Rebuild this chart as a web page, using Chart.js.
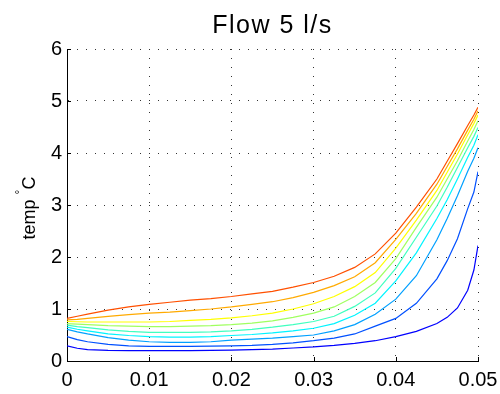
<!DOCTYPE html>
<html>
<head>
<meta charset="utf-8">
<script src="https://cdn.jsdelivr.net/npm/chart.js@4"></script>
<style>
  body { margin: 0; background: #fff; }
  #wrap { width: 500px; height: 394px; }
</style>
</head>
<body>
<div id="wrap"><canvas id="flowChart" width="500" height="394"></canvas></div>
<script>
const xValues = [0, 0.00125, 0.0025, 0.005, 0.0075, 0.01, 0.0125, 0.015, 0.0175, 0.02, 0.0225, 0.025,
  0.0275, 0.03, 0.0325, 0.035, 0.0375, 0.04, 0.0425, 0.045, 0.04625, 0.0475, 0.04875, 0.0495, 0.05];

const curve1 = [0.29, 0.245, 0.22, 0.205, 0.20, 0.20, 0.20, 0.20, 0.205, 0.21, 0.22, 0.23, 0.25, 0.27, 0.30, 0.34, 0.39, 0.47, 0.57, 0.72, 0.84, 1.02, 1.36, 1.75, 2.22];
const curve2 = [0.47, 0.41, 0.37, 0.32, 0.29, 0.28, 0.28, 0.28, 0.285, 0.29, 0.30, 0.32, 0.35, 0.39, 0.44, 0.52, 0.67, 0.82, 1.11, 1.58, 1.93, 2.35, 2.93, 3.25, 3.64];
const curve3 = [0.61, 0.56, 0.52, 0.45, 0.40, 0.37, 0.36, 0.36, 0.37, 0.40, 0.42, 0.44, 0.47, 0.50, 0.58, 0.70, 0.90, 1.19, 1.64, 2.33, 2.74, 3.18, 3.65, 3.90, 4.10];
const curve4 = [0.65, 0.61, 0.58, 0.52, 0.49, 0.47, 0.46, 0.46, 0.47, 0.49, 0.51, 0.54, 0.58, 0.63, 0.72, 0.88, 1.11, 1.54, 2.08, 2.74, 3.10, 3.50, 3.92, 4.15, 4.35];
const curve5 = [0.69, 0.66, 0.64, 0.60, 0.57, 0.55, 0.55, 0.55, 0.56, 0.58, 0.61, 0.65, 0.70, 0.76, 0.86, 1.05, 1.31, 1.78, 2.38, 2.98, 3.34, 3.72, 4.10, 4.32, 4.49];
const curve6 = [0.72, 0.71, 0.70, 0.68, 0.67, 0.66, 0.66, 0.67, 0.68, 0.70, 0.73, 0.77, 0.84, 0.92, 1.04, 1.24, 1.51, 1.97, 2.57, 3.15, 3.50, 3.85, 4.23, 4.45, 4.62];
const curve7 = [0.76, 0.755, 0.75, 0.75, 0.75, 0.75, 0.76, 0.78, 0.80, 0.83, 0.87, 0.92, 1.00, 1.10, 1.24, 1.43, 1.70, 2.17, 2.71, 3.28, 3.63, 3.98, 4.35, 4.57, 4.73];
const curve8 = [0.79, 0.80, 0.82, 0.86, 0.89, 0.92, 0.94, 0.97, 1.00, 1.04, 1.09, 1.14, 1.22, 1.32, 1.45, 1.62, 1.89, 2.34, 2.84, 3.40, 3.74, 4.08, 4.44, 4.65, 4.81];
const curve9 = [0.82, 0.86, 0.90, 0.98, 1.04, 1.09, 1.13, 1.17, 1.20, 1.24, 1.29, 1.34, 1.42, 1.51, 1.63, 1.80, 2.06, 2.46, 2.96, 3.50, 3.84, 4.18, 4.53, 4.73, 4.88];

const curves = [curve1, curve2, curve3, curve4, curve5, curve6, curve7, curve8, curve9];
const colors = ['#0000ff', '#0050ff', '#00a0ff', '#00f4ff', '#40ffbf', '#a0ff60', '#ffff00', '#ffaa00', '#ff5000'];

const titleText = 'Flow 5 l/s';
const font = '"Liberation Sans", Arial, Helvetica, sans-serif';

const datasets = curves.map((ys, i) => ({
  data: ys.map((y, j) => ({ x: xValues[j], y: y })),
  borderColor: colors[i],
  borderWidth: 1.2,
  pointRadius: 0,
  tension: 0,
  fill: false
}));

// title, y label with raised degree sign, inward tick marks
const decor = {
  id: 'decor',
  afterDraw(chart) {
    const { ctx, chartArea: a, scales } = chart;
    ctx.save();
    ctx.fillStyle = '#000';
    ctx.font = '25px ' + font;
    ctx.letterSpacing = '1.5px';
    ctx.textAlign = 'center';
    ctx.textBaseline = 'alphabetic';
    ctx.fillText(titleText, (a.left + a.right) / 2, 33);
    ctx.letterSpacing = '0px';

    ctx.translate(35, (a.top + a.bottom) / 2 + 3);
    ctx.rotate(-Math.PI / 2);
    ctx.textAlign = 'left';
    const p1 = 'temp ', p3 = 'C';
    ctx.font = '18px ' + font;
    const w1 = ctx.measureText(p1).width;
    ctx.font = '12px ' + font;
    const w2 = ctx.measureText('\u00b0').width;
    ctx.font = '18px ' + font;
    const w3 = ctx.measureText(p3).width;
    const x0 = -(w1 + w2 + w3) / 2;
    ctx.fillText(p1, x0, 0);
    ctx.font = '12px ' + font;
    ctx.fillText('\u00b0', x0 + w1, -11);
    ctx.font = '18px ' + font;
    ctx.fillText(p3, x0 + w1 + w2, 0);
    ctx.restore();

    ctx.save();
    ctx.strokeStyle = '#000';
    ctx.lineWidth = 1;
    ctx.beginPath();
    scales.x.ticks.forEach(t => {
      const px = Math.round(scales.x.getPixelForValue(t.value)) + 0.5;
      ctx.moveTo(px, a.bottom);
      ctx.lineTo(px, a.bottom - 4);
    });
    scales.y.ticks.forEach(t => {
      const py = Math.round(scales.y.getPixelForValue(t.value)) + 0.5;
      ctx.moveTo(a.left, py);
      ctx.lineTo(a.left + 4, py);
    });
    ctx.stroke();
    ctx.restore();
  }
};

const config = {
  type: 'line',
  data: { datasets: datasets },
  options: {
    responsive: false,
    animation: false,
    layout: { padding: { top: 49, right: 22, left: 0, bottom: 0 } },
    plugins: {
      legend: { display: false },
      tooltip: { enabled: false },
      title: { display: false }
    },
    scales: {
      x: {
        type: 'linear',
        min: 0,
        max: 0.05,
        afterFit: s => { s.height = 33; s.paddingLeft = 0; s.paddingRight = 0; },
        ticks: {
          stepSize: 0.01,
          color: '#000',
          padding: 7,
          maxRotation: 0,
          font: { family: font, size: 20 },
          callback: v => String(Math.round(v * 100) / 100)
        },
        grid: { color: '#333', lineWidth: 1, drawTicks: false },
        border: { color: '#000', width: 1, dash: [1, 8] }
      },
      y: {
        min: 0,
        max: 6,
        afterFit: s => { s.width = 67; s.paddingTop = 0; s.paddingBottom = 0; },
        ticks: {
          stepSize: 1,
          color: '#000',
          padding: 5,
          font: { family: font, size: 20 }
        },
        grid: { color: '#333', lineWidth: 1, drawTicks: false },
        border: { color: '#000', width: 1, dash: [1, 8] }
      }
    }
  },
  plugins: [decor]
};

const flowChart = new Chart(document.getElementById('flowChart').getContext('2d'), config);
</script>
</body>
</html>
